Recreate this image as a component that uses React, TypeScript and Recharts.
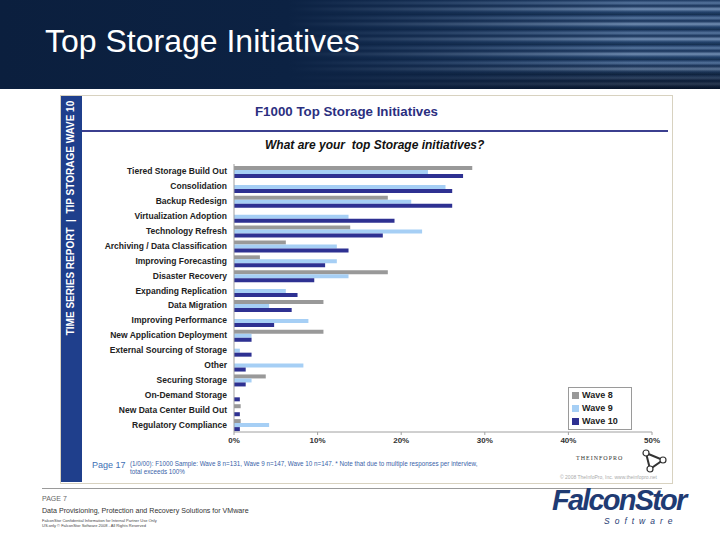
import { Bar, BarChart, XAxis, YAxis } from "recharts";

const initiatives = [
  "Tiered Storage Build Out",
  "Consolidation",
  "Backup Redesign",
  "Virtualization Adoption",
  "Technology Refresh",
  "Archiving / Data Classification",
  "Improving Forecasting",
  "Disaster Recovery",
  "Expanding Replication",
  "Data Migration",
  "Improving Performance",
  "New Application Deployment",
  "External Sourcing of Storage",
  "Other",
  "Securing Storage",
  "On-Demand Storage",
  "New Data Center Build Out",
  "Regulatory Compliance",
];

const wave8 = [28.5, 0, 18.4, 0, 13.9, 6.2, 3.1, 18.4, 0, 10.7, 0, 10.7, 0, 0, 3.8, 0, 0.8, 0.8];
const wave9 = [23.2, 25.3, 21.2, 13.7, 22.5, 12.3, 12.3, 13.7, 6.2, 4.2, 8.9, 2.1, 0.7, 8.3, 2.1, 0, 0, 4.2];
const wave10 = [27.4, 26.1, 26.1, 19.2, 17.8, 13.7, 10.9, 9.6, 7.6, 6.9, 4.8, 2.1, 2.1, 1.4, 1.4, 0.7, 0.7, 0.7];

const xTicks = [0, 10, 20, 30, 40, 50];

const series = [
  { key: "wave8", label: "Wave 8", color: "#999999" },
  { key: "wave9", label: "Wave 9", color: "#a6cff5" },
  { key: "wave10", label: "Wave 10", color: "#2e3192" },
];

const chartData = initiatives.map((name, i) => ({
  name,
  wave8: wave8[i],
  wave9: wave9[i],
  wave10: wave10[i],
}));

const font = '"Liberation Sans", Arial, sans-serif';

// single-line category label, right aligned against the axis
function CategoryTick(props: any) {
  const { x, y, payload } = props;
  return (
    <text x={x} y={y} dy={3} textAnchor="end" fontSize={8.5} fontWeight={700} fill="#222" fontFamily={font}>
      {payload.value}
    </text>
  );
}

function LegendBox() {
  return (
    <div
      style={{
        position: "absolute",
        left: 568,
        top: 387,
        width: 56,
        border: "1px solid #9a9a9a",
        background: "#fff",
        padding: "1px 3px",
        fontFamily: font,
        fontSize: 9,
        fontWeight: 700,
        color: "#222",
        lineHeight: "13px",
      }}
    >
      {series.map((s) => (
        <div key={s.key} style={{ display: "flex", alignItems: "center" }}>
          <span style={{ display: "inline-block", width: 7, height: 7, background: s.color, marginRight: 3 }} />
          {s.label}
        </div>
      ))}
    </div>
  );
}

export default function App() {
  return (
    <div style={{ position: "absolute", left: 0, top: 0, width: 720, height: 540, background: "#fff", overflow: "hidden", fontFamily: font }}>
      {/* header band */}
      <div
        style={{
          position: "absolute",
          left: 0,
          top: 0,
          width: 720,
          height: 89,
          background:
            "linear-gradient(to right, #0b1f3e 0%, #0c2243 40%, rgba(12,34,67,0.6) 62%, rgba(12,34,67,0.1) 88%), linear-gradient(to bottom, rgba(0,0,0,0) 70%, rgba(3,10,25,0.8) 100%), repeating-linear-gradient(to bottom, #1d3a63 0px, #5f7fa8 3px, #18335a 6px, #7e9bc0 9px, #264670 12px, #16304f 15px)",
        }}
      />
      <div style={{ position: "absolute", left: 45, top: 25, color: "#fff", fontSize: 32, lineHeight: "32px", fontFamily: font, letterSpacing: 0 }}>
        Top Storage Initiatives
      </div>

      {/* embedded report image */}
      <div style={{ position: "absolute", left: 60, top: 95, width: 611, height: 387, border: "1px solid #d8d2c0", background: "#fff" }} />
      <div style={{ position: "absolute", left: 61, top: 96, width: 21, height: 386, background: "#1f3f8c" }} />
      <div
        style={{
          position: "absolute",
          left: 71,
          top: 218,
          width: 240,
          height: 12,
          marginLeft: -120,
          marginTop: -6,
          transform: "rotate(-90deg)",
          color: "#fff",
          fontWeight: 700,
          fontSize: 10,
          lineHeight: "12px",
          whiteSpace: "nowrap",
          textAlign: "center",
        }}
      >
        TIME SERIES REPORT&nbsp;&nbsp;|&nbsp;&nbsp;TIP STORAGE WAVE 10
      </div>
      <div style={{ position: "absolute", left: 255, top: 104, color: "#2b2f7f", fontWeight: 700, fontSize: 13.3 }}>
        F1000 Top Storage Initiatives
      </div>
      <div style={{ position: "absolute", left: 82, top: 130, width: 586, height: 2, background: "#3b3f8f" }} />
      <div style={{ position: "absolute", left: 265, top: 138, color: "#111", fontWeight: 700, fontStyle: "italic", fontSize: 12 }}>
        What are your&nbsp; top Storage initiatives?
      </div>

      <div style={{ position: "absolute", left: 100, top: 155 }}>
        <BarChart
          layout="vertical"
          width={570}
          height={297}
          data={chartData}
          margin={{ top: 9, right: 18, left: 0, bottom: 0 }}
          barCategoryGap={2}
          barGap={0}
        >
          <XAxis
            type="number"
            domain={[0, 50]}
            ticks={xTicks}
            tickFormatter={(v) => `${v}%`}
            tick={{ fontSize: 8, fontWeight: 700, fill: "#333", fontFamily: font }}
            axisLine={{ stroke: "#a0a0a0" }}
            tickLine={{ stroke: "#a0a0a0" }}
            tickSize={3}
            height={20}
          />
          <YAxis
            type="category"
            dataKey="name"
            width={134}
            interval={0}
            tick={<CategoryTick />}
            axisLine={{ stroke: "#a0a0a0" }}
            tickLine={false}
            tickSize={5}
            tickMargin={2}
          />
          {series.map((s) => (
            <Bar key={s.key} dataKey={s.key} name={s.label} fill={s.color} isAnimationActive={false} />
          ))}
        </BarChart>
      </div>
      <LegendBox />

      {/* report footer */}
      <div style={{ position: "absolute", left: 92, top: 460, color: "#3d6fb5", fontSize: 9 }}>Page 17</div>
      <div style={{ position: "absolute", left: 130, top: 460, color: "#3a5fa8", fontSize: 6.3, lineHeight: "8px" }}>
        (1/0/00): F1000 Sample: Wave 8 n=131, Wave 9 n=147, Wave 10 n=147. * Note that due to multiple responses per interview,
        <br />
        total exceeds 100%
      </div>
      <div style={{ position: "absolute", left: 576, top: 455, color: "#333", fontSize: 6, fontFamily: "serif", letterSpacing: 1 }}>
        THEINFOPRO
      </div>
      <svg style={{ position: "absolute", left: 640, top: 448 }} width={28} height={26}>
        <polygon points="6,5 23,12 10,21" fill="none" stroke="#333" strokeWidth={2} />
        <circle cx={6} cy={5} r={3} fill="#fff" stroke="#333" strokeWidth={1.2} />
        <circle cx={23} cy={12} r={3} fill="#fff" stroke="#333" strokeWidth={1.2} />
        <circle cx={10} cy={21} r={3} fill="#fff" stroke="#333" strokeWidth={1.2} />
      </svg>
      <div style={{ position: "absolute", left: 560, top: 474, color: "#aaa", fontSize: 5 }}>
        © 2008 TheInfoPro, Inc. www.theinfopro.net
      </div>

      {/* slide footer */}
      <div style={{ position: "absolute", left: 42, top: 488, width: 620, height: 1, background: "#9a9a9a" }} />
      <div style={{ position: "absolute", left: 42, top: 495, color: "#666", fontSize: 7 }}>PAGE 7</div>
      <div style={{ position: "absolute", left: 42, top: 507, color: "#333", fontSize: 7.1 }}>
        Data Provisioning, Protection and Recovery Solutions for VMware
      </div>
      <div style={{ position: "absolute", left: 42, top: 518, color: "#444", fontSize: 4, lineHeight: "5px" }}>
        FalconStor Confidential Information for Internal Partner Use Only
        <br />
        US.only © FalconStor Software 2008 - All Rights Reserved
      </div>
      <div
        style={{
          position: "absolute",
          left: 552,
          top: 487,
          color: "#1f3b73",
          fontSize: 29,
          lineHeight: "26px",
          fontWeight: 700,
          fontStyle: "italic",
          letterSpacing: -1.8,
        }}
      >
        FalconStor
      </div>
      <div style={{ position: "absolute", left: 604, top: 517, color: "#1f3b73", fontSize: 8.5, lineHeight: "9px", fontStyle: "italic", letterSpacing: 5 }}>
        Software
      </div>
    </div>
  );
}
